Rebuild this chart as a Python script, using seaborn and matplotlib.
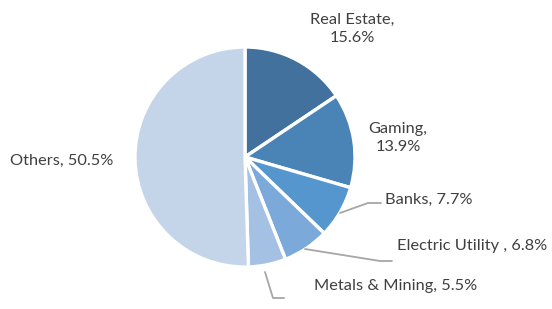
import matplotlib
matplotlib.use("Agg")
import matplotlib.pyplot as plt
import seaborn as sns

# sector shares of the portfolio
sectors = ["Real Estate", "Gaming", "Banks", "Electric Utility ", "Metals & Mining", "Others"]
shares = [15.6, 13.9, 7.7, 6.8, 5.5, 50.5]
colours = ["#41719c", "#4a84b7", "#5596cf", "#7ba9da", "#a4c1e4", "#c4d5ea"]

sns.set_style("white")
plt.rcParams["font.family"] = ["Lato", "DejaVu Sans"]

fig = plt.figure(figsize=(5.52, 3.09), dpi=100)
W, H = 552.0, 309.0
cx, cy, r = 245.0, 157.0, 110.0
ax = fig.add_axes([(cx - r) / W, (H - cy - r) / H, 2 * r / W, 2 * r / H])

ax.pie(shares, colors=sns.color_palette(colours), startangle=90, counterclock=False,
       wedgeprops=dict(edgecolor="white", linewidth=2.4))
ax.set_xlim(-1, 1)
ax.set_ylim(-1, 1)
ax.set_aspect("equal")
ax.axis("off")

def px(x, y):
	# pixel position in the picture -> pie units
	return ((x - cx) / r, (cy - y) / r)

txt = "#404040"
fs = 11.8
labels = ["%s,\n%.1f%%" % (sectors[0], shares[0]),
          "%s,\n%.1f%%" % (sectors[1], shares[1]),
          "%s, %.1f%%" % (sectors[2], shares[2]),
          "%s, %.1f%%" % (sectors[3], shares[3]),
          "%s, %.1f%%" % (sectors[4], shares[4]),
          "%s, %.1f%%" % (sectors[5], shares[5])]
spots = [(352, 29, "center"), (398, 138, "center"), (385, 200, "left"),
         (397, 246, "left"), (314, 286, "left"), (10, 161, "left")]
for lab, (x, y, ha) in zip(labels, spots):
	X, Y = px(x, y)
	ax.text(X, Y, lab, ha=ha, va="center", fontsize=fs, color=txt,
	        linespacing=1.3, clip_on=False)

leaders = [[(340, 213), (368, 203), (381, 203)],
           [(305, 249), (380, 261), (392, 261)],
           [(265, 272), (273, 298), (284, 298)]]
for pts in leaders:
	xs, ys = zip(*[px(a, b) for a, b in pts])
	ax.plot(xs, ys, color="#a6a6a6", linewidth=1.3, clip_on=False)

fig.savefig("out.png", dpi=100)
